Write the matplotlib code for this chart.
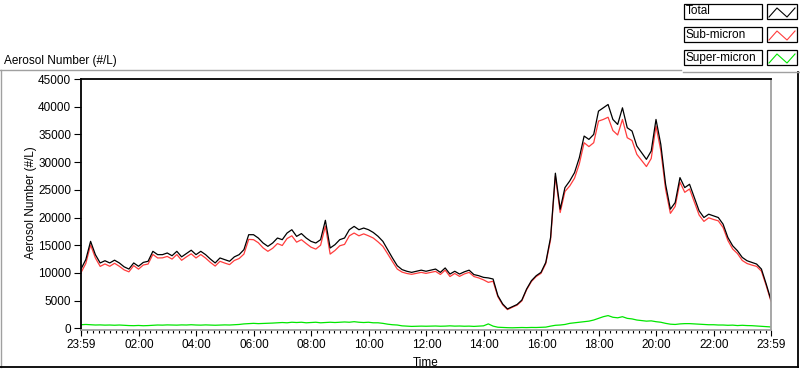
import numpy as np
import matplotlib
matplotlib.use("Agg")
import matplotlib.pyplot as plt
from matplotlib.patches import Rectangle
from matplotlib.lines import Line2D

plt.rcParams['font.family'] = ['Liberation Sans', 'DejaVu Sans']
plt.rcParams['font.size'] = 8.5

# values every 10 minutes, from 23:59 to 23:59
total = [10700, 12400, 15700, 13300, 11800, 12200, 11800, 12300, 11800, 11100,
         10700, 11800, 11200, 11900, 12100, 13900, 13300, 13300, 13600, 13100,
         13900, 12900, 13500, 14100, 13300, 13900, 13300, 12500, 11800, 12700,
         12400, 12100, 12900, 13300, 14200, 16900, 16900, 16300, 15400, 14800,
         15400, 16300, 16000, 17200, 17800, 16600, 17100, 16300, 15700, 15400,
         16000, 19500, 14500, 15100, 16000, 16300, 17800, 18400, 17800, 18100,
         17800, 17300, 16600, 15700, 14200, 12700, 11300, 10600, 10300, 10100,
         10300, 10500, 10300, 10500, 10700, 10100, 10900, 9800, 10300, 9800,
         10200, 10500, 9700, 9500, 9200, 9100, 8900, 5900, 4400, 3500,
         3900, 4300, 5100, 7100, 8600, 9500, 10100, 11900, 16400, 28000,
         21500, 25400, 26600, 28100, 30800, 34700, 34100, 35000, 39200, 39800,
         40400, 37700, 36800, 39800, 36200, 35600, 32900, 31700, 30500, 32000,
         37700, 33200, 26000, 21500, 22700, 27200, 25400, 26000, 23600, 21200,
         20000, 20600, 20300, 20000, 18800, 16400, 14900, 14000, 12800, 12200,
         11900, 11600, 10700, 8000, 5100]

sub_micron = [10050, 11700, 15050, 12700, 11180, 11620, 11200, 11740, 11200, 10550,
              10200, 11320, 10680, 11430, 11600, 13340, 12700, 12720, 12980, 12500,
              13320, 12280, 12900, 13450, 12700, 13320, 12680, 11900, 11240, 12100,
              11780, 11500, 12250, 12600, 13400, 16050, 16000, 15450, 14520, 13900,
              14450, 15300, 14950, 16200, 16700, 15550, 16000, 15300, 14650, 14300,
              15000, 18450, 13400, 14050, 14900, 15150, 16700, 17200, 16700, 17050,
              16700, 16300, 15600, 14800, 13450, 12050, 10700, 10150, 9900, 9750,
              9920, 10100, 9920, 10100, 10280, 9720, 10500, 9350, 9900, 9380,
              9820, 10100, 9350, 9100, 8750, 8300, 8500, 5700, 4250, 3380,
              3800, 4180, 4950, 6970, 8440, 9350, 9920, 11680, 16000, 27450,
              20900, 24700, 25700, 27100, 29700, 33500, 32800, 33500, 37400, 37700,
              38100, 35700, 34900, 37700, 34400, 33900, 31400, 30300, 29200, 30650,
              36500, 32100, 25100, 20750, 22000, 26400, 24550, 25150, 22800, 20450,
              19300, 19950, 19650, 19400, 18200, 15850, 14320, 13500, 12250, 11700,
              11420, 11180, 10320, 7700, 4850]

super_micron = [650, 700, 650, 600, 620, 580, 600, 560, 600, 550,
                500, 480, 520, 470, 500, 560, 600, 580, 620, 600,
                580, 620, 600, 650, 600, 580, 620, 600, 560, 600,
                620, 600, 650, 700, 800, 850, 900, 850, 880, 900,
                950, 1000, 1050, 1000, 1100, 1050, 1100, 1000, 1050, 1100,
                1000, 1050, 1100, 1050, 1100, 1150, 1100, 1200, 1100, 1050,
                1100, 1000, 1000, 900, 750, 650, 600, 450, 400, 350,
                380, 400, 380, 400, 420, 380, 400, 450, 400, 420,
                380, 400, 350, 400, 450, 800, 400, 200, 150, 120,
                100, 120, 150, 130, 160, 150, 180, 220, 400, 550,
                600, 700, 900, 1000, 1100, 1200, 1300, 1500, 1800, 2100,
                2300, 2000, 1900, 2100, 1800, 1700, 1500, 1400, 1300, 1350,
                1200, 1100, 900, 750, 700, 800, 850, 850, 800, 750,
                700, 650, 650, 600, 600, 550, 580, 500, 550, 500,
                480, 420, 380, 300, 250]

tick_labels = ['23:59', '02:00', '04:00', '06:00', '08:00', '10:00', '12:00',
               '14:00', '16:00', '18:00', '20:00', '22:00', '23:59']

# hours since midnight, first sample at 23:59 the day before
t = np.arange(len(total)) / 6.0 - 1 / 60.0

W, H = 800, 369
fig = plt.figure(figsize=(W / 100, H / 100), dpi=100)
ax = fig.add_axes([81 / W, 1 - 330 / H, 690 / W, 251 / H])

ax.plot(t, sub_micron, color='#ff3c3c', lw=0.9)
ax.plot(t, total, color='black', lw=0.9)
ax.plot(t, super_micron, color='#00e600', lw=0.9)

ax.set_xlim(-1 / 60, 24 - 1 / 60)
ax.set_ylim(-300, 45000)
ax.set_yticks(np.arange(0, 45001, 5000))
ax.set_xticks([-1 / 60] + list(range(2, 23, 2)) + [24 - 1 / 60])
ax.set_xticklabels(tick_labels)
ax.set_xticks(np.arange(0, 24, 0.2), minor=True)
ax.tick_params(axis='y', direction='out', length=5, width=0.8, pad=2)
ax.tick_params(axis='x', which='major', direction='out', length=4.5, width=0.8, pad=2)
ax.tick_params(axis='x', which='minor', direction='out', length=2, width=0.8)

for s in ['left', 'top']:
    ax.spines[s].set_color('black')
    ax.spines[s].set_linewidth(1.3)
for s in ['right', 'bottom']:
    ax.spines[s].set_color('#a0a0a0')
    ax.spines[s].set_linewidth(1.3)

ax.set_xlabel('Time', labelpad=4)
fig.text(31 / W, 1 - 203 / H, 'Aerosol Number (#/L)', rotation=90,
         ha='center', va='center')
fig.text(4 / W, 1 - 64 / H, 'Aerosol Number (#/L)', ha='left', va='baseline')

# outer frame of the graph
def fline(x0, y0, x1, y1, color, lw=1.0):
    fig.add_artist(Line2D([x0 / W, x1 / W], [1 - y0 / H, 1 - y1 / H],
                          color=color, lw=lw, transform=fig.transFigure))

fline(0, 69.5, 681, 69.5, '#a0a0a0')
fline(1, 69.5, 1, 366.5, '#a0a0a0')
fline(0, 366.5, 798, 366.5, 'black', 1.3)
fline(798, 72, 798, 366.5, 'black', 1.3)
fline(683, 71.5, 800, 71.5, '#a0a0a0')

# legend
leg_names = ['Total', 'Sub-micron', 'Super-micron']
leg_colors = ['black', '#ff3c3c', '#00e600']
for i, (name, col) in enumerate(zip(leg_names, leg_colors)):
    y0 = 4 + 23 * i
    fig.add_artist(Rectangle((684 / W, 1 - (y0 + 15) / H), 78 / W, 15 / H,
                             fill=False, ec='black', lw=0.9,
                             transform=fig.transFigure))
    fig.add_artist(Rectangle((767 / W, 1 - (y0 + 15) / H), 30 / W, 15 / H,
                             fill=False, ec='black', lw=0.9,
                             transform=fig.transFigure))
    fig.text(686 / W, 1 - (y0 + 7.5) / H, name, ha='left', va='center')
    zx = [769, 777, 787, 795]
    zy = [y0 + 13, y0 + 4, y0 + 13, y0 + 4]
    fig.add_artist(Line2D([v / W for v in zx], [1 - v / H for v in zy],
                          color=col, lw=0.8, transform=fig.transFigure))

fig.savefig('out.png', dpi=100)
